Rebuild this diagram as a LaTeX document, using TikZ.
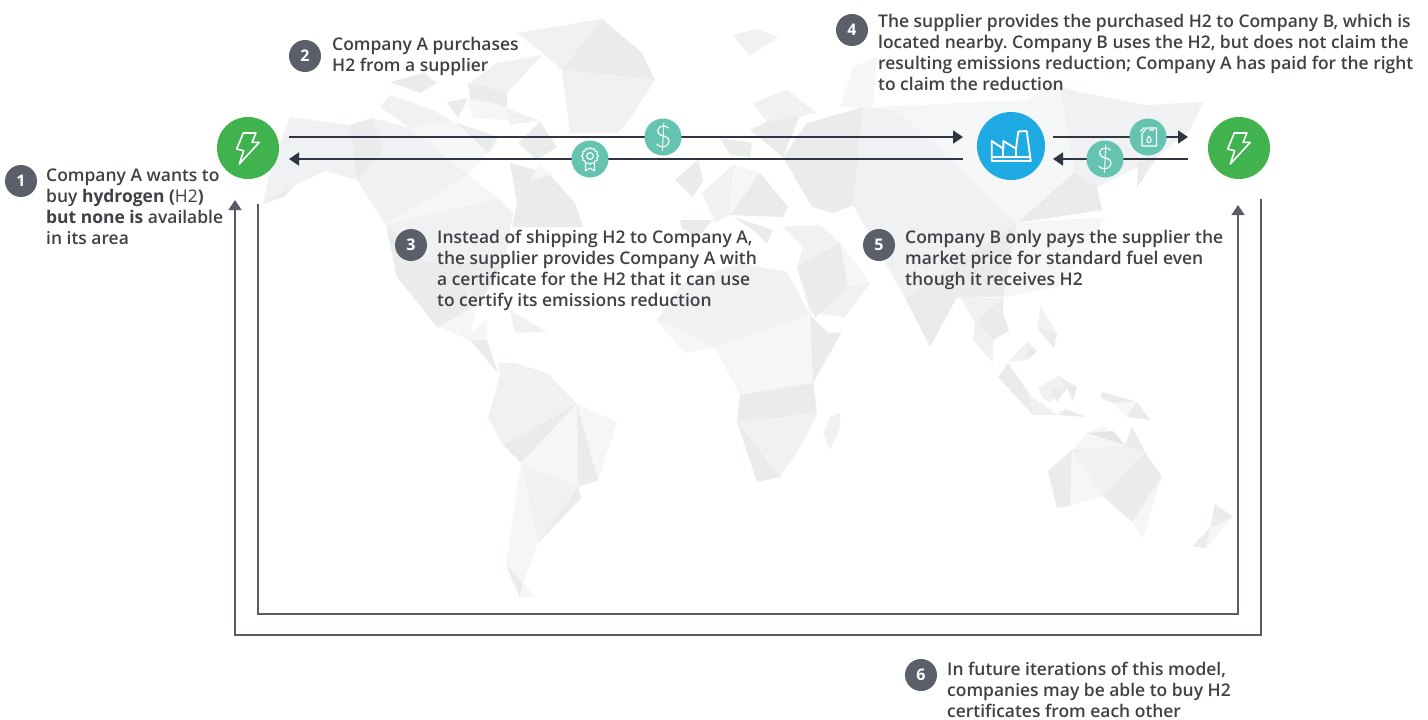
\documentclass[tikz,border=0pt]{standalone}
\usepackage{fontspec}
\setmainfont{Open Sans}
\newfontfamily\notefont{Open Sans Semibold}
\newfontfamily\notebold{Open Sans Bold}
\newfontfamily\cashfont{Lato Light}
\usetikzlibrary{arrows.meta, positioning, calc}
\definecolor{HubGreen}{RGB}{64, 179, 79}
\definecolor{HubBlue}{RGB}{30, 170, 226}
\definecolor{TokenTeal}{RGB}{101, 196, 177}
\definecolor{ArrowInk}{RGB}{47, 53, 66}
\definecolor{LoopInk}{RGB}{88, 92, 102}
\definecolor{BadgeGrey}{RGB}{91, 95, 105}
\definecolor{NoteInk}{RGB}{62, 65, 70}
\definecolor{MapA}{RGB}{240, 241, 242}
\definecolor{MapB}{RGB}{234, 235, 235}
\definecolor{MapC}{RGB}{245, 246, 246}
\definecolor{MapD}{RGB}{228, 229, 229}
\tikzset{
  hubnode/.style={circle, minimum size=62pt, inner sep=0pt, fill=HubGreen},
  tokennode/.style={circle, minimum size=37pt, inner sep=0pt, fill=TokenTeal, text=white},
  cashnode/.style={tokennode, font=\cashfont\fontsize{30}{30}\selectfont},
  badgenode/.style={circle, minimum size=32pt, inner sep=0pt, fill=BadgeGrey, text=white, font=\notebold\fontsize{16}{16}\selectfont},
  notenode/.style={anchor=north west, inner sep=0pt, align=left, text=NoteInk, font=\notefont\fontsize{17.45}{21}\selectfont\frenchspacing},
  flowline/.style={-{Stealth[inset=0pt, length=10pt, width=13pt]}, line width=1.6pt, ArrowInk},
  iconline/.style={draw=white, line width=1.1pt, line join=round, fill=none},
  boltpic/.pic={
    \draw[white, line width=1.6pt, line join=round] (-4.7,-15) -- (8,-15) -- (4,-5.7) -- (11.3,-5.7) -- (-8.7,16) -- (-4.3,2.7) -- (-11.3,1) -- cycle;
  },
  millpic/.pic={
    \draw[white, line width=1.9pt, line join=round] (-19.3,15) -- (-19.3,-5) -- (-7.7,2.7) -- (-7.7,-5) -- (5,2.7) -- (7.3,-14.5) -- (15.7,-15) -- (19.7,15) -- cycle;
    \draw[white, line width=1.9pt] (-19.3,11) -- (19.7,11) (-7.7,2.7) -- (-7.7,11) (5,2.7) -- (5,11);
  },
  ribbonpic/.pic={
    \draw[iconline] plot[domain=0:360, samples=97, smooth] ({(7.7+0.6*cos(12*\x))*cos(\x)}, {-3+(7.7+0.6*cos(12*\x))*sin(\x)});
    \draw[iconline] (0,-3) circle (3.4);
    \draw[iconline] (-4.5,4) -- (-4.5,12) -- (0,9) -- (4.5,12) -- (4.5,4);
  },
  canpic/.pic={
    \draw[iconline] (-6,-3) -- (-1.5,-9) -- (8.5,-9) -- (8.5,9) -- (-6,9) -- cycle;
    \draw[iconline] (-7.5,-5.5) -- (-3.5,-9.5) (1,-7) -- (6,-7);
    \draw[iconline] (1,-1) .. controls (-2,3) and (-1.5,5.5) .. (1,5.5) .. controls (3.5,5.5) and (4,3) .. (1,-1);
  }
}
\begin{document}
\begin{tikzpicture}[x=1pt, y=-1pt]
\useasboundingbox (0,0) rectangle (1428,720);
\fill[white] (0,0) rectangle (1428,720);

\fill[MapA] (290,117) -- (350,125) -- (357,180) -- (325,171) -- (295,185) -- (263,204) -- (270,170) -- cycle;
\fill[MapB] (295,185) -- (263,204) -- (285,196) -- cycle;
\fill[MapB] (350,125) -- (372,118) -- (384,150) -- (357,180) -- cycle;
\fill[MapA] (372,118) -- (410,128) -- (468,175) -- (357,180) -- (384,150) -- cycle;
\fill[MapC] (410,128) -- (450,120) -- (498,143) -- (468,175) -- cycle;
\fill[MapB] (457,123) -- (498,137) -- (488,153) -- cycle;
\fill[MapA] (357,180) -- (468,175) -- (386,225) -- cycle;
\fill[MapC] (468,175) -- (498,198) -- (386,225) -- cycle;
\fill[MapA] (386,225) -- (498,198) -- (513,213) -- (505,262) -- (425,262) -- cycle;
\fill[MapB] (386,225) -- (425,262) -- (397,277) -- cycle;
\fill[MapB] (397,277) -- (425,262) -- (505,262) -- (478,305) -- (437,327) -- cycle;
\fill[MapA] (437,327) -- (478,305) -- (467,287) -- (470,333) -- cycle;
\fill[MapC] (478,305) -- (470,333) -- (487,320) -- (487,340) -- (470,340) -- (440,327) -- cycle;
\fill[MapB] (470,340) -- (487,340) -- (498,373) -- cycle;
\fill[MapA] (510,310) -- (547,332) -- (515,333) -- cycle;
\fill[MapB] (510,163) -- (548,173) -- (517,203) -- cycle;
\fill[MapB] (517,203) -- (548,173) -- (575,203) -- (583,227) -- (512,227) -- cycle;
\fill[MapC] (540,165) -- (552,175) -- (530,180) -- cycle;
\fill[MapA] (380,107) -- (390,95) -- (433,110) -- (450,120) -- (410,128) -- cycle;
\fill[MapB] (390,82) -- (425,73) -- (437,83) -- (420,93) -- cycle;
\fill[MapB] (447,102) -- (468,98) -- (458,118) -- cycle;
\fill[MapB] (468,83) -- (507,92) -- (507,107) -- (470,98) -- cycle;
\fill[MapA] (497,63) -- (542,55) -- (507,93) -- (470,83) -- cycle;
\fill[MapC] (468,98) -- (507,107) -- (540,122) -- (503,120) -- (472,118) -- cycle;
\fill[MapA] (505,110) -- (540,120) -- (510,125) -- cycle;
\fill[MapB] (518,143) -- (540,122) -- (557,147) -- (537,160) -- cycle;
\fill[MapA] (517,33) -- (602,19) -- (562,70) -- (545,55) -- cycle;
\fill[MapB] (602,19) -- (642,53) -- (655,80) -- (562,70) -- cycle;
\fill[MapA] (562,70) -- (655,80) -- (627,123) -- (617,133) -- (570,133) -- cycle;
\fill[MapA] (733,35) -- (757,29) -- (778,37) -- (750,56) -- cycle;

\fill[MapA] (498,363) -- (515,363) -- (547,373) -- (500,375) -- cycle;
\fill[MapA] (500,375) -- (547,373) -- (577,404) -- (503,445) -- (488,418) -- cycle;
\fill[MapB] (503,445) -- (577,404) -- (521,463) -- cycle;
\fill[MapC] (521,463) -- (577,404) -- (578,487) -- cycle;
\fill[MapB] (577,404) -- (598,480) -- (578,487) -- cycle;
\fill[MapC] (577,404) -- (617,422) -- (598,480) -- cycle;
\fill[MapA] (521,463) -- (578,487) -- (538,543) -- cycle;
\fill[MapB] (578,487) -- (581,498) -- (538,543) -- cycle;
\fill[MapC] (521,463) -- (538,543) -- (523,583) -- (506,565) -- cycle;
\fill[MapB] (506,565) -- (523,583) -- (520,598) -- cycle;
\fill[MapC] (523,583) -- (535,597) -- (520,598) -- cycle;

\fill[MapA] (657,320) -- (683,283) -- (740,263) -- (715,347) -- cycle;
\fill[MapC] (657,320) -- (715,347) -- (685,353) -- cycle;
\fill[MapA] (740,263) -- (787,272) -- (810,315) -- (715,347) -- cycle;
\fill[MapC] (715,347) -- (810,315) -- (813,383) -- (740,395) -- cycle;
\fill[MapB] (810,315) -- (828,333) -- (842,332) -- (813,383) -- cycle;
\fill[MapB] (740,395) -- (813,383) -- (817,413) -- (737,422) -- cycle;
\fill[MapA] (737,422) -- (817,413) -- (803,443) -- (780,477) -- cycle;
\fill[MapB] (737,422) -- (780,477) -- (757,482) -- cycle;
\fill[MapA] (823,433) -- (830,417) -- (840,413) -- (840,428) -- (830,450) -- cycle;

\fill[MapA] (753,103) -- (787,90) -- (817,113) -- (767,122) -- cycle;
\fill[MapB] (720,138) -- (752,143) -- (750,157) -- (730,155) -- cycle;
\fill[MapB] (767,122) -- (800,115) -- (783,157) -- (750,130) -- cycle;
\fill[MapB] (675,180) -- (698,160) -- (703,180) -- (693,197) -- cycle;
\fill[MapA] (702,193) -- (733,165) -- (760,173) -- (730,215) -- (715,222) -- cycle;
\fill[MapC] (733,165) -- (760,173) -- (730,215) -- cycle;
\fill[MapB] (760,173) -- (788,207) -- (783,217) -- (730,215) -- cycle;
\fill[MapB] (680,220) -- (713,220) -- (697,238) -- (682,228) -- cycle;
\fill[MapB] (733,217) -- (773,230) -- (767,243) -- (753,230) -- cycle;
\fill[MapB] (807,123) -- (863,107) -- (853,205) -- (833,213) -- (812,207) -- (783,157) -- cycle;
\fill[MapA] (783,227) -- (820,225) -- (840,243) -- (803,247) -- cycle;
\fill[MapA] (803,247) -- (840,243) -- (870,283) -- (845,317) -- (810,313) -- (797,267) -- cycle;
\fill[MapB] (797,267) -- (840,243) -- (848,287) -- (815,318) -- cycle;
\fill[MapC] (840,243) -- (870,283) -- (848,287) -- cycle;

\fill[MapC] (840,107) -- (853,67) -- (877,57) -- (873,107) -- cycle;
\fill[MapA] (853,205) -- (863,107) -- (897,110) -- (1017,223) -- (905,298) -- cycle;
\fill[MapC] (873,107) -- (1027,100) -- (1053,83) -- (1093,97) -- (1075,172) -- (1017,223) -- (897,110) -- cycle;
\fill[MapA] (1060,88) -- (1145,105) -- (1203,102) -- (1190,130) -- (1157,157) -- (1097,187) -- (1075,172) -- cycle;
\fill[MapB] (1075,172) -- (1097,187) -- (1102,210) -- (1017,223) -- cycle;
\fill[MapC] (1017,223) -- (1105,217) -- (1083,257) -- (1057,287) -- (1003,297) -- cycle;
\fill[MapB] (905,298) -- (1017,223) -- (1003,297) -- cycle;
\fill[MapB] (1138,163) -- (1157,157) -- (1137,188) -- cycle;
\fill[MapB] (905,298) -- (957,297) -- (930,347) -- cycle;
\fill[MapA] (960,297) -- (1003,298) -- (975,323) -- cycle;
\fill[MapB] (1003,298) -- (1003,313) -- (1009,331) -- (993,340) -- (975,323) -- cycle;
\fill[MapA] (975,323) -- (993,340) -- (993,363) -- (973,340) -- cycle;

\fill[MapA] (1041,307) -- (1057,333) -- (1037,328) -- cycle;
\fill[MapB] (1037,328) -- (1057,333) -- (1054,348) -- cycle;
\fill[MapA] (1008,362) -- (1027,342) -- (1027,360) -- cycle;
\fill[MapB] (1027,342) -- (1037,351) -- (1027,360) -- cycle;
\fill[MapB] (1008,363) -- (998,377) -- (1033,415) -- (1030,395) -- cycle;
\fill[MapA] (1030,395) -- (1033,415) -- (1057,415) -- cycle;
\fill[MapA] (1038,388) -- (1058,376) -- (1067,388) -- (1050,402) -- (1043,398) -- cycle;
\fill[MapB] (1058,376) -- (1077,387) -- (1073,402) -- (1067,388) -- cycle;
\fill[MapB] (1050,389) -- (1067,388) -- (1057,402) -- cycle;
\fill[MapB] (1057,415) -- (1066,409) -- (1086,417) -- cycle;
\fill[MapB] (1103,392) -- (1137,402) -- (1113,403) -- (1100,397) -- cycle;
\fill[MapC] (1113,403) -- (1137,402) -- (1127,417) -- cycle;
\fill[MapB] (1137,402) -- (1150,420) -- (1127,417) -- cycle;

\fill[MapC] (1072,450) -- (1087,433) -- (1103,426) -- (1125,445) -- cycle;
\fill[MapD] (1087,433) -- (1113,431) -- (1125,445) -- cycle;
\fill[MapB] (1125,445) -- (1132,427) -- (1145,452) -- cycle;
\fill[MapB] (1048,471) -- (1072,450) -- (1070,506) -- (1057,508) -- cycle;
\fill[MapC] (1072,450) -- (1103,496) -- (1070,506) -- cycle;
\fill[MapA] (1072,450) -- (1125,445) -- (1145,452) -- (1103,496) -- cycle;
\fill[MapB] (1103,496) -- (1145,452) -- (1162,477) -- (1132,522) -- cycle;
\fill[MapC] (1132,522) -- (1162,477) -- (1143,538) -- cycle;
\fill[MapB] (1215,504) -- (1233,517) -- (1210,528) -- cycle;
\fill[MapC] (1210,528) -- (1233,517) -- (1206,548) -- cycle;
\fill[MapB] (1210,528) -- (1206,548) -- (1192,546) -- cycle;

\node[hubnode] (hubA) at (248,148) {};
\node[hubnode, minimum size=68pt, fill=HubBlue] (plant) at (1011,146) {};
\node[hubnode] (hubB) at (1239,148) {};
\pic at (hubA.center) {boltpic};
\pic at (plant.center) {millpic};
\pic at (hubB.center) {boltpic};

\coordinate (hubAtop) at (289,137);
\coordinate (hubAlow) at (289,159);
\coordinate (plantlefttop) at (963,137);
\coordinate (plantleftlow) at (963,159);
\coordinate (plantrighttop) at (1053,137);
\coordinate (plantrightlow) at (1053,159);
\coordinate (hubBtop) at (1188,137);
\coordinate (hubBlow) at (1188,159);
\coordinate (innerstart) at (258,204);
\coordinate (innerend) at (1238,205);
\coordinate (outerstart) at (1261,199);
\coordinate (outerend) at (235,200);

\draw[flowline] (hubAtop) -- (plantlefttop);
\draw[flowline] (plantleftlow) -- (hubAlow);
\draw[flowline] (plantrighttop) -- (hubBtop);
\draw[flowline] (hubBlow) -- (plantrightlow);
\draw[flowline, line width=1.3pt, LoopInk] (innerstart) |- (614,614) -| (innerend);
\draw[flowline, line width=1.3pt, LoopInk] (outerstart) |- (635,635) -| (outerend);

\node[cashnode] (payA) at (663,137) {\$};
\node[tokennode] (certA) at (590,159) {};
\node[tokennode] (fuelB) at (1148,137) {};
\node[cashnode] (payB) at (1105,159) {\$};
\pic at (certA.center) {ribbonpic};
\pic at (fuelB.center) {canpic};

\node[badgenode] (badgeone) at (21,181) {1};
\node[badgenode] (badgetwo) at (305,56) {2};
\node[badgenode] (badgethree) at (411,245) {3};
\node[badgenode] (badgefour) at (852,30) {4};
\node[badgenode] (badgefive) at (879,245) {5};
\node[badgenode] (badgesix) at (921,675) {6};

\node[notenode] (noteone) at (46,169) {Company A wants to\\buy {\notebold hydrogen (}{\normalfont H2}{\notebold )}\\{\notebold but none is} available\\in its area};
\node[notenode] (notetwo) at (332,37) {Company A purchases\\H2 from a supplier};
\node[notenode] (notethree) at (437,230) {Instead of shipping H2 to Company A,\\the supplier provides Company A with\\a certificate for the H2 that it can use\\to certify its emissions reduction};
\node[notenode] (notefour) at (878,14) {The supplier provides the purchased H2 to Company B, which is\\located nearby. Company B uses the H2, but does not claim the\\resulting emissions reduction; Company A has paid for the right\\to claim the reduction};
\node[notenode] (notefive) at (905,230) {Company B only pays the supplier the\\market price for standard fuel even\\though it receives H2};
\node[notenode] (notesix) at (947,662) {In future iterations of this model,\\companies may be able to buy H2\\certificates from each other};
\end{tikzpicture}
\end{document}
